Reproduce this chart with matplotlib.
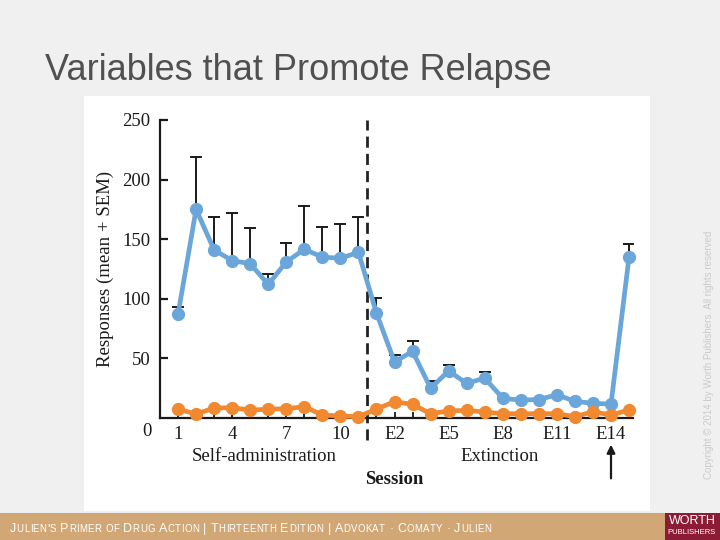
import matplotlib
matplotlib.use("Agg")
import matplotlib.pyplot as plt
from matplotlib.patches import Rectangle
import numpy as np

# ---- data ----
sessions = list(range(1, 27))  # 1..11 self-admin, 12..26 = E1..E15
tick_positions = [1, 4, 7, 10, 13, 16, 19, 22, 25]
tick_labels = ["1", "4", "7", "10", "E2", "E5", "E8", "E11", "E14"]
blue_mean = [87, 175, 141, 132, 129.5, 112, 131, 141.5, 135, 134, 139,
             88, 47, 56, 25, 39.5, 29, 33.5, 16.5, 15, 15.5, 19.5, 14, 12.3, 11.7, 135]
blue_sem = [6.5, 44, 28, 40, 29.5, 9, 16, 36.5, 25.5, 28.5, 29.5,
            12.5, 6, 9, 6, 5, None, 5.5, None, None, None, None, None, None, None, 11]
orange_mean = [7.5, 3.3, 8.4, 8.6, 6.7, 7.3, 7.8, 9.5, 2.5, 1.7, 1.1,
               7.5, 13.7, 11.4, 3.6, 5.9, 6.4, 5.0, 3.6, 3.6, 3.6, 3.6, 1.1, 5.3, 2.5, 6.7]
footer_text = "Julien's Primer of Drug Action | Thirteenth Edition | Advokat \u00b7 Comaty \u00b7 Julien"

BLUE = "#6aa6d9"
ORANGE = "#f0892f"

fig = plt.figure(figsize=(7.2, 5.4), dpi=100)
fig.patch.set_facecolor("#f0f0f0")

W, H = 720.0, 540.0
def fx(px): return px / W
def fy(py): return 1 - py / H

# white panel
fig.patches.append(Rectangle((fx(84), fy(511)), fx(650) - fx(84), fy(96) - fy(511),
                             transform=fig.transFigure, facecolor="white", edgecolor="none", zorder=0))
# footer band
fig.patches.append(Rectangle((0, 0), 1, fy(513), transform=fig.transFigure,
                             facecolor="#d2a776", edgecolor="none", zorder=0))
fig.patches.append(Rectangle((fx(665), 0), fx(720) - fx(665), fy(513), transform=fig.transFigure,
                             facecolor="#8c1c36", edgecolor="none", zorder=1))

fig.text(fx(45), fy(80), "Variables that Promote Relapse", fontsize=26, color="#505050",
         family="Liberation Sans", ha="left", va="baseline")

# small-caps footer
renderer = fig.canvas.get_renderer()
xpos = 10.0
base_y = fy(532)
for ch in footer_text:
    if ch == " ":
        xpos += 3.6
        continue
    big = ch.isupper() or ch in "|\u00b7'"
    size = 9.0 if big else 6.9
    t = fig.text(fx(xpos), base_y, ch.upper(), fontsize=size, color="white",
                 family="Liberation Sans", ha="left", va="baseline")
    bb = t.get_window_extent(renderer=renderer)
    xpos += bb.width + 0.4

fig.text(fx(692), fy(521), "WORTH", fontsize=9, color="white", family="Liberation Sans",
         ha="center", va="center")
fig.text(fx(692), fy(533), "PUBLISHERS", fontsize=5.5, color="white", family="Liberation Sans",
         ha="center", va="center")
fig.text(fx(709), fy(355), "Copyright \u00a9 2014 by Worth Publishers. All rights reserved",
         fontsize=7.0, color="#cacaca", family="Liberation Sans", rotation=90,
         ha="center", va="center")

# axes
x0_px, x_per = 160.0, 18.04
xmax = 26.2
ax = fig.add_axes([fx(x0_px), fy(418), (xmax * x_per) / W, (418 - 120) / H])
ax.set_zorder(5)
ax.set_facecolor("none")
ax.set_xlim(0, xmax)
ax.set_ylim(0, 250)

serif = "Liberation Serif"

ax.axvline(11.5, ymin=-0.075, ymax=1.0, color="#222222", lw=2, ls=(0, (4, 2.2)), clip_on=False, zorder=2)

x = np.array(sessions)
bm = np.array(blue_mean)
idx = [i for i, s in enumerate(blue_sem) if s is not None]
ax.errorbar(x[idx], bm[idx], yerr=[np.zeros(len(idx)), np.array([blue_sem[i] for i in idx])],
            fmt="none", ecolor="#1a1a1a", elinewidth=1.4, capsize=4.5, capthick=1.4, zorder=3)

ax.plot(sessions, blue_mean, color=BLUE, lw=3.4, marker="o", ms=8.5, mec=BLUE, zorder=4,
        clip_on=False)
ax.plot(sessions, orange_mean, color=ORANGE, lw=3.4, marker="o", ms=8.5, mec=ORANGE, zorder=4,
        clip_on=False)

for s in ["top", "right"]:
    ax.spines[s].set_visible(False)
for s in ["left", "bottom"]:
    ax.spines[s].set_linewidth(1.6)
    ax.spines[s].set_color("#1a1a1a")

ax.set_yticks([50, 100, 150, 200, 250])
ax.set_xticks(tick_positions)
ax.set_xticklabels(tick_labels)
ax.set_xticks(sessions, minor=True)
ax.tick_params(axis="y", direction="in", length=6, width=1.6, pad=7, labelsize=13.5,
               colors="#1a1a1a")
ax.tick_params(axis="x", which="both", direction="in", length=4.5, width=1.3, pad=6,
               labelsize=13.5, colors="#1a1a1a")
for lab in ax.get_xticklabels() + ax.get_yticklabels():
    lab.set_family(serif)

ax.annotate("0", xy=(0, 0), xytext=(-9.5, -10), textcoords="offset points", ha="center",
            va="center", fontsize=13.5, family=serif, color="#1a1a1a", annotation_clip=False)

ax.set_ylabel("Responses (mean + SEM)", fontsize=13.5, family=serif, color="#1a1a1a", labelpad=6)

ax.text(5.8, -32.5, "Self-administration", ha="center", va="center", fontsize=13.5, family=serif,
        color="#1a1a1a", clip_on=False)
ax.text(18.8, -32.5, "Extinction", ha="center", va="center", fontsize=13.5, family=serif,
        color="#1a1a1a", clip_on=False)
ax.text(13.0, -52, "Session", ha="center", va="center", fontsize=13.5, family=serif,
        fontweight="bold", color="#1a1a1a", clip_on=False)

ax.annotate("", xy=(25, -20), xytext=(25, -53), annotation_clip=False,
            arrowprops=dict(arrowstyle="-|>", color="#1a1a1a", lw=1.6, mutation_scale=12))

fig.savefig("out.png", dpi=100, facecolor=fig.get_facecolor())
